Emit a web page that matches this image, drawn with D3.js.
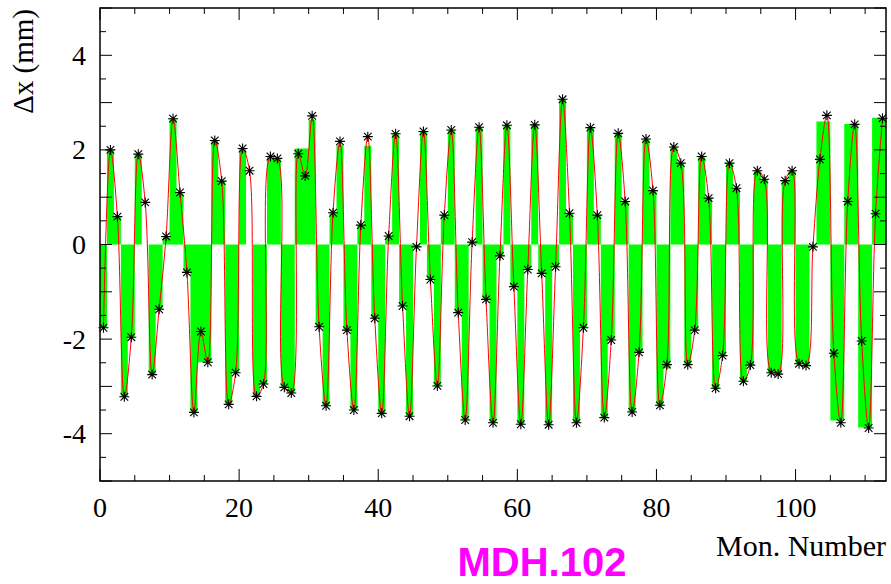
<!DOCTYPE html>
<html>
<head>
<meta charset="utf-8">
<script src="https://cdn.jsdelivr.net/npm/d3@7"></script>
<style>
  html, body { margin: 0; padding: 0; background: #ffffff; }
  svg { display: block; }
</style>
</head>
<body>
<script>
// ---------- data ----------
const monitorCount = 113;
const xTickValues = [0, 20, 40, 60, 80, 100];
const yTickValues = [-4, -2, 0, 2, 4];
const xTitle = "Mon. Number";
const yTitle = "Δx (mm)";
const chartLabel = "MDH.102";

// measured Δx at each monitor (points + red curve)
const points = [
  -1.76, 2.00, 0.59, -3.22, -1.96, 1.91, 0.89, -2.75, -1.37, 0.17,
   2.66, 1.10, -0.59, -3.55, -1.84, -2.49, 2.20, 1.34, -3.38, -2.71,
   2.03, 1.56, -3.21, -2.95, 1.86, 1.82, -3.02, -3.14, 1.92, 1.45,
   2.72, -1.74, -3.41, 0.67, 2.18, -1.81, -3.50, 0.41, 2.28, -1.56,
  -3.57, 0.18, 2.34, -1.30, -3.63, -0.05, 2.39, -0.74, -2.99, 0.62,
   2.42, -1.44, -3.71, 0.05, 2.48, -1.16, -3.77, -0.24, 2.52, -0.89,
  -3.80, -0.53, 2.53, -0.61, -3.81, -0.47, 3.07, 0.66, -3.77, -1.76,
   2.47, 0.62, -3.66, -2.02, 2.35, 0.91, -3.54, -2.28, 2.23, 1.14,
  -3.40, -2.54, 2.06, 1.72, -2.54, -1.81, 1.86, 0.98, -3.04, -2.35,
   1.72, 1.19, -2.89, -2.55, 1.56, 1.38, -2.71, -2.74, 1.35, 1.56,
  -2.52, -2.56, -0.05, 1.80, 2.73, -2.30, -3.77, 0.91, 2.54, -2.04,
  -3.88, 0.65, 2.67
];

// histogram contents (green bars), one per monitor bin
const bars = [
  -1.76, 2.00, 0.59, -3.22, -1.96, 1.91, 0.00, -2.75, -1.37, 0.17,
   2.66, 1.10, -0.59, -3.55, -2.49, -2.49, 2.20, 1.34, -3.38, -2.71,
   2.03, 0.00, -3.21, -2.95, 1.86, 1.82, -3.02, -3.14, 2.03, 2.03,
   2.63, -1.74, -3.41, 0.67, 2.10, -1.81, -3.50, 0.41, 2.09, -1.56,
  -3.57, 0.18, 2.34, -1.30, -3.63, -0.05, 2.39, -0.74, -2.99, 0.62,
   2.42, -1.44, -3.71, 0.05, 2.48, -1.16, -3.77, -0.24, 2.52, -0.89,
  -3.80, -0.53, 2.53, -0.61, -3.81, -0.47, 3.07, 0.66, -3.77, -1.76,
   2.47, 0.62, -3.66, -2.02, 2.35, 0.91, -3.54, -2.28, 2.23, 1.14,
  -3.40, -2.62, 2.06, 1.72, -2.54, -1.81, 1.86, 0.98, -3.04, -2.35,
   1.72, 1.19, -2.89, -2.55, 1.56, 1.38, -2.71, -2.74, 1.35, 1.56,
  -2.52, -2.56, -0.05, 2.60, 2.60, -3.72, -3.72, 2.55, 2.55, -3.87,
  -3.87, 2.68, 2.68
];

// ---------- layout ----------
const W = 891, H = 584;
const plot = { left: 100, right: 886, top: 8, bottom: 481 };

const svg = d3.select("body").append("svg")
  .attr("width", W).attr("height", H)
  .attr("viewBox", `0 0 ${W} ${H}`);

svg.append("rect").attr("width", W).attr("height", H).attr("fill", "#ffffff");

const x = d3.scaleLinear().domain([0, monitorCount]).range([plot.left, plot.right]);
const y = d3.scaleLinear().domain([-5, 5]).range([plot.bottom, plot.top]);

// ---------- green histogram ----------
const stepData = bars.map((v, i) => ({ e: i, v }));
stepData.push({ e: monitorCount, v: bars[bars.length - 1] });
const area = d3.area()
  .x(d => x(d.e))
  .y0(y(0))
  .y1(d => y(d.v))
  .curve(d3.curveStepAfter);
svg.append("path")
  .datum(stepData)
  .attr("d", area)
  .attr("fill", "#00ff00")
  .attr("stroke", "none");

// ---------- red smooth curve ----------
const ptData = points.map((v, i) => ({ c: i + 0.5, v }));
const line = d3.line()
  .x(d => x(d.c))
  .y(d => y(d.v))
  .curve(d3.curveCatmullRom.alpha(0.5));
svg.append("path")
  .datum(ptData)
  .attr("d", line)
  .attr("fill", "none")
  .attr("stroke", "#ff0000")
  .attr("stroke-width", 1);

// ---------- asterisk markers ----------
const s = 5, dgl = 3.8;
const star = `M${-s},0L${s},0M0,${-s}L0,${s}M${-dgl},${-dgl}L${dgl},${dgl}M${-dgl},${dgl}L${dgl},${-dgl}`;
svg.append("g").selectAll("path")
  .data(ptData)
  .join("path")
  .attr("transform", d => `translate(${x(d.c)},${y(d.v)})`)
  .attr("d", star)
  .attr("stroke", "#000000")
  .attr("stroke-width", 1.1)
  .attr("fill", "none");

// ---------- axes (ticks inward, all four sides) ----------
const xMinor = d3.range(0, monitorCount + 0.01, 5);
const yMinor = d3.range(-5, 5.01, 0.5);
const g = svg.append("g").attr("stroke", "#000").attr("stroke-width", 1);

xMinor.forEach(v => {
  const len = xTickValues.includes(v) ? 12 : 6;
  g.append("line").attr("x1", x(v)).attr("x2", x(v)).attr("y1", plot.bottom).attr("y2", plot.bottom - len);
  g.append("line").attr("x1", x(v)).attr("x2", x(v)).attr("y1", plot.top).attr("y2", plot.top + len);
});
yMinor.forEach(v => {
  const len = Number.isInteger(v) ? 12 : 6;
  g.append("line").attr("x1", plot.left).attr("x2", plot.left + len).attr("y1", y(v)).attr("y2", y(v));
  g.append("line").attr("x1", plot.right).attr("x2", plot.right - len).attr("y1", y(v)).attr("y2", y(v));
});

// frame
svg.append("rect")
  .attr("x", plot.left).attr("y", plot.top)
  .attr("width", plot.right - plot.left).attr("height", plot.bottom - plot.top)
  .attr("fill", "none").attr("stroke", "#000").attr("stroke-width", 1.5);

// tick labels
const serif = "'Liberation Serif', 'Times New Roman', serif";
svg.append("g").selectAll("text")
  .data(xTickValues)
  .join("text")
  .attr("x", d => x(d))
  .attr("y", 517)
  .attr("text-anchor", "middle")
  .attr("font-family", serif)
  .attr("font-size", 28)
  .attr("fill", "#000")
  .text(d => d);

svg.append("g").selectAll("text")
  .data(yTickValues)
  .join("text")
  .attr("x", 86)
  .attr("y", d => y(d))
  .attr("dy", "0.34em")
  .attr("text-anchor", "end")
  .attr("font-family", serif)
  .attr("font-size", 28)
  .attr("fill", "#000")
  .text(d => (d < 0 ? "-" + Math.abs(d) : String(d)));

// axis titles
svg.append("text")
  .attr("x", plot.right)
  .attr("y", 556)
  .attr("text-anchor", "end")
  .attr("font-family", serif)
  .attr("font-size", 30)
  .attr("fill", "#000")
  .text(xTitle);

svg.append("text")
  .attr("transform", `translate(33, ${plot.top + 1}) rotate(-90)`)
  .attr("text-anchor", "end")
  .attr("font-family", serif)
  .attr("font-size", 29)
  .attr("fill", "#000")
  .text(yTitle);

// chart label
svg.append("text")
  .attr("x", 542)
  .attr("y", 576)
  .attr("text-anchor", "middle")
  .attr("font-family", "'Liberation Sans', Arial, Helvetica, sans-serif")
  .attr("font-weight", "bold")
  .attr("font-size", 40)
  .attr("fill", "#ff00ff")
  .text(chartLabel);
</script>
</body>
</html>
